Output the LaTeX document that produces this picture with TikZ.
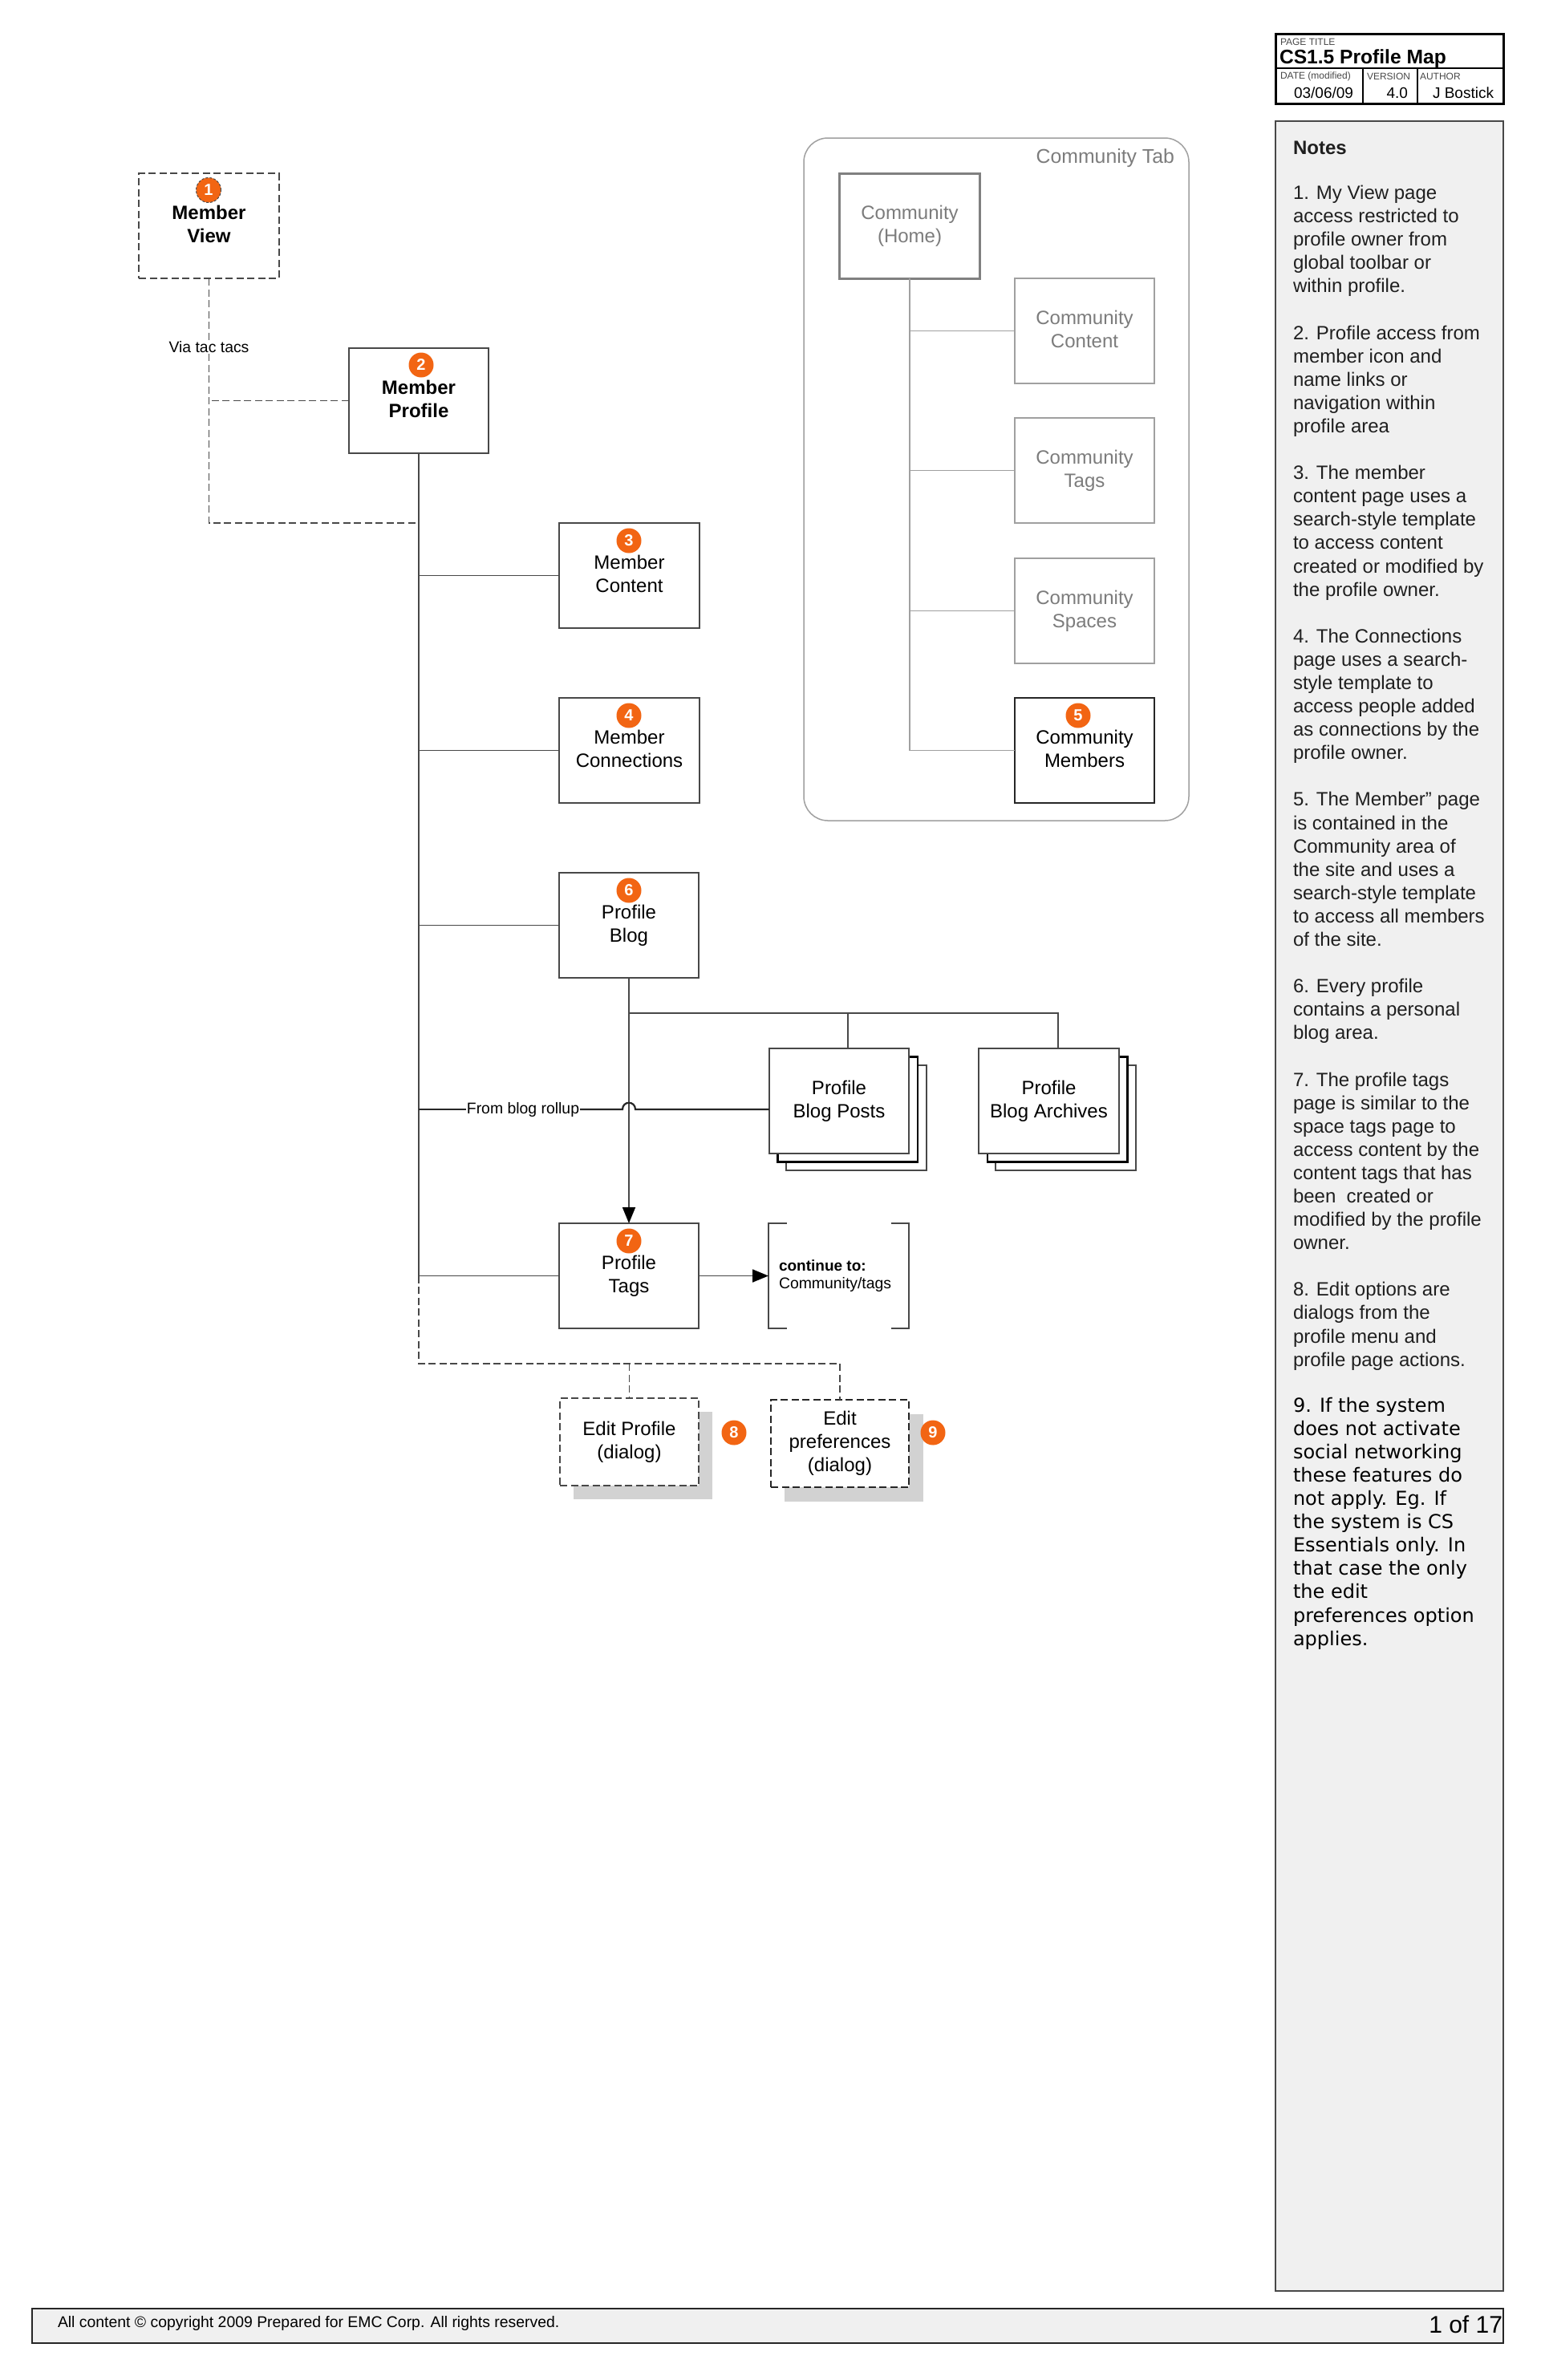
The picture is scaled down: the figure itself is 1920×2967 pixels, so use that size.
\documentclass[tikz,border=0pt]{standalone}
\usepackage{fontspec}
\setmainfont{Liberation Sans}
\newfontfamily\verdfont{DejaVu Sans}
\usetikzlibrary{arrows.meta}
\definecolor{badgeorange}{HTML}{F26513}
\definecolor{panelgray}{HTML}{F0F0F0}
\definecolor{linegray}{HTML}{484848}
\definecolor{commline}{HTML}{A0A0A0}
\definecolor{commtext}{HTML}{7C7C7C}
\definecolor{shadowgray}{HTML}{D2D2D2}
\newcommand{\fs}[2]{\fontsize{#1}{#2}\selectfont}
\tikzset{
  x=1pt,y=-1pt,
  every node/.style={inner sep=0pt,outer sep=0pt},
  pagebox/.style={draw=linegray,line width=1.8pt,fill=white,minimum width=174.5pt,minimum height=131pt,align=center,font=\fs{24}{29},text=black,
    execute at end node={\rule[-5.2pt]{0pt}{5.2pt}}},
  boldtext/.style={font=\fs{24}{29}\bfseries},
  dashbox/.style={dash pattern=on 9pt off 4.5pt},
  commbox/.style={pagebox,draw=commline,text=commtext},
  dialog/.style={pagebox,minimum height=109pt,dash pattern=on 9pt off 4.5pt},
  stacked/.style={draw=linegray,line width=1.8pt,fill=white,minimum width=174.5pt,minimum height=131pt},
  shadow/.style={fill=shadowgray,minimum width=173pt,minimum height=109pt},
  badge/.style={circle,fill=badgeorange,text=white,minimum size=31pt,font=\fs{20}{20}\bfseries},
  conn/.style={draw=linegray,line width=1.8pt},
  dashconn/.style={conn,dash pattern=on 9pt off 4.5pt},
  commconn/.style={draw=commline,line width=1.6pt},
  arrowconn/.style={conn,-{Triangle[length=20pt,width=16pt,color=black]}},
  small/.style={font=\fs{19.4}{23},text=black},
  tiny/.style={font=\fs{12}{14},anchor=west,text=linegray},
  meta/.style={font=\fs{19}{23},text=black,anchor=east},
  notes/.style={anchor=north west,align=left,font=\fs{24}{29.09},text=black!88},
}
\begin{document}
\begin{tikzpicture}
\useasboundingbox (0,0) rectangle (1920,2967);
% title block
\node[draw=black,line width=3pt,minimum width=284pt,minimum height=87pt] (titlebox) at (1732,85.5) {};
\draw[black,line width=2pt] (1590,85) -- (1874,85);
\draw[black,line width=2pt] (1699,85) -- (1699,129);
\draw[black,line width=2pt] (1767,85) -- (1767,129);
\node[tiny] (ptl) at (1596,52) {PAGE TITLE};
\node[anchor=west,font=\fs{24.6}{29}\bfseries] (ptitle) at (1595,73) {CS1.5 Profile Map};
\node[tiny] (dtl) at (1596,95) {DATE (modified)};
\node[tiny] (vrl) at (1704,95) {VERSION};
\node[tiny] (aul) at (1770,95) {AUTHOR};
\node[meta] (dtv) at (1687,116) {03/06/09};
\node[meta] (vrv) at (1755,116) {4.0};
\node[meta] (auv) at (1862,116) {J Bostick};
% notes panel
\node[draw=linegray,line width=2.5pt,fill=panelgray,minimum width=284pt,minimum height=2705pt] (panel) at (1732,1503.5) {};
\node[notes] (notes1) at (1612,176) {\textbf{Notes}\\[27pt]
1. My View page\\access restricted to\\profile owner from\\global toolbar or\\within profile.\\[29.09pt]
2. Profile access from\\member icon and\\name links or\\navigation within\\profile area\\[29.09pt]
3. The member\\content page uses a\\search-style template\\to access content\\created or modified by\\the profile owner.\\[29.09pt]
4. The Connections\\page uses a search-\\style template to\\access people added\\as connections by the\\profile owner.\\[29.09pt]
5. The Member'' page\\is contained in the\\Community area of\\the site and uses a\\search-style template\\to access all members\\of the site.\\[29.09pt]
6. Every profile\\contains a personal\\blog area.\\[29.09pt]
7. The profile tags\\page is similar to the\\space tags page to\\access content by the\\content tags that has\\been\ \ created or\\modified by the profile\\owner.\\[29.09pt]
8. Edit options are\\dialogs from the\\profile menu and\\profile page actions.};
\node[notes,font=\verdfont\fs{24}{29.09},text=black] (notes9) at (1612,1742) {9. If the system\\does not activate\\social networking\\these features do\\not apply. Eg. If\\the system is CS\\Essentials only. In\\that case the only\\the edit\\preferences option\\applies.};
% footer
\node[draw=black!85,line width=2.5pt,fill=panelgray,minimum width=1834pt,minimum height=43pt] (footer) at (957,2899.5) {};
\node[anchor=west,font=\fs{19.4}{23}] (copy) at (72,2896) {All content © copyright 2009 Prepared for EMC Corp. All rights reserved.};
\node[anchor=east,font=\fs{30}{34}] (pgno) at (1873,2898) {1 of 17};
% community tab
\node[draw=commline,line width=1.5pt,rounded corners=30pt,minimum width=480pt,minimum height=851pt] (commtab) at (1242,597.5) {};
\node[anchor=east,font=\fs{24.8}{29},text=commtext] (commlabel) at (1464,197) {Community Tab};
\node[commbox,draw=commline!80!black,line width=3pt] (chome) at (1134,281.5) {Community\\(Home)};
\node[commbox] (ccont) at (1352,412.5) {Community\\Content};
\node[commbox] (ctags) at (1352,586.5) {Community\\Tags};
\node[commbox] (cspac) at (1352,761.5) {Community\\Spaces};
\node[pagebox,draw=black!85] (cmemb) at (1352,935.5) {Community\\Members};
\draw[commconn] (chome.south) -- (chome.south |- cmemb.west) -- (cmemb.west);
\draw[commconn] (ccont.west) -- (chome.south |- ccont.west);
\draw[commconn] (ctags.west) -- (chome.south |- ctags.west);
\draw[commconn] (cspac.west) -- (chome.south |- cspac.west);
% main boxes
\node[pagebox,boldtext,dashbox] (mview) at (260.5,281.5) {Member\\View};
\node[pagebox,boldtext] (mprof) at (522,499.5) {Member\\Profile};
\node[pagebox] (mcont) at (784.5,717.5) {Member\\Content};
\node[pagebox] (mconn) at (784.5,935.5) {Member\\Connections};
\node[pagebox] (pblog) at (784,1153.5) {Profile\\Blog};
\node[pagebox] (ptags) at (784,1590.5) {Profile\\Tags};
% stacks
\node[stacked] (bp3) at (1067.5,1393.5) {};
\node[stacked,draw=black,line width=2.5pt] (bp2) at (1056.5,1383) {};
\node[pagebox] (bp1) at (1046,1372.5) {Profile\\Blog Posts};
\node[stacked] (ba3) at (1328.5,1393.5) {};
\node[stacked,draw=black,line width=2.5pt] (ba2) at (1318,1383) {};
\node[pagebox] (ba1) at (1307.5,1372.5) {Profile\\Blog Archives};
% continue bracket
\coordinate (brL) at (958,1525);
\coordinate (brR) at (1133,1525);
\coordinate (brLb) at (958,1656);
\coordinate (brRb) at (1133,1656);
\coordinate (brC) at (958,1590.5);
\draw[conn] ([xshift=22.5pt]brL) -- (brL) -- (brLb) -- ([xshift=22.5pt]brLb);
\draw[conn] ([xshift=-22.5pt]brR) -- (brR) -- (brRb) -- ([xshift=-22.5pt]brRb);
\node[anchor=west,font=\fs{19}{23}\bfseries] (cont1) at (971,1578) {continue to:};
\node[anchor=west,small] (cont2) at (971,1601) {Community/tags};
% dialogs
\node[shadow] (es1) at (801.5,1814.5) {};
\node[shadow] (es2) at (1064.5,1817) {};
\node[dialog] (eprof) at (784.5,1797.5) [minimum width=173pt] {Edit Profile\\(dialog)};
\node[dialog,draw=black!85,line width=2.2pt] (epref) at (1047,1799.5) [minimum width=172pt] {Edit\\preferences\\(dialog)};
% badges
\node[badge,draw=black!70,densely dashed,line width=1pt] (b1) at (260,237) {1};
\node[badge] (b2) at (525,455) {2};
\node[badge] (b3) at (784,674) {3};
\node[badge] (b4) at (784,892) {4};
\node[badge] (b5) at (1344,892) {5};
\node[badge] (b6) at (784,1110) {6};
\node[badge] (b7) at (784,1547) {7};
\node[badge] (b8) at (915,1786) {8};
\node[badge] (b9) at (1163,1786) {9};
% connectors
\coordinate (vjoin) at (260.5,652);
\node[small,fill=white,inner xsep=2pt,inner ysep=1pt] (via) at (260.5,433) {Via tac tacs};
\draw[dashconn] (mview.south) -- (via.north);
\draw[dashconn] (via.south) -- (vjoin) -- (mprof.south |- vjoin);
\draw[dashconn] (mprof.west) -- (mview.south |- mprof.west);
\coordinate (mainend) at (522,1590.5);
\draw[conn] (mprof.south) -- (mainend) -- (ptags.west);
\draw[conn] (mcont.west) -- (mprof.south |- mcont.west);
\draw[conn] (mconn.west) -- (mprof.south |- mconn.west);
\draw[conn] (pblog.west) -- (mprof.south |- pblog.west);
\draw[arrowconn] (pblog.south) -- (ptags.north);
\draw[arrowconn] (ptags.east) -- (brC);
\coordinate (topjoin) at (784,1263);
\coordinate (dropA) at (1057,1307);
\coordinate (dropB) at (1319,1307);
\draw[conn] (topjoin) -- (dropB |- topjoin) -- (dropB);
\draw[conn] (dropA |- topjoin) -- (dropA);
% rollup line with jump
\node[small,fill=white,inner xsep=1pt,inner ysep=1pt] (roll) at (652,1383) {From blog rollup};
\coordinate (jumpR) at (792,1383);
\coordinate (jumpL) at (776,1383);
\draw[conn,black!85,line width=2.2pt] (bp1.west |- jumpR) -- (jumpR) .. controls (792,1372) and (776,1372) .. (jumpL) -- (roll.east);
\draw[conn,black!85,line width=2.2pt] (roll.west) -- (mprof.south |- roll.west);
% dialog connectors
\coordinate (dj) at (522,1700);
\draw[dashconn] (mainend) -- (dj) -- (epref.north |- dj) -- (epref.north);
\draw[dashconn] (eprof.north |- dj) -- (eprof.north);
\end{tikzpicture}
\end{document}
